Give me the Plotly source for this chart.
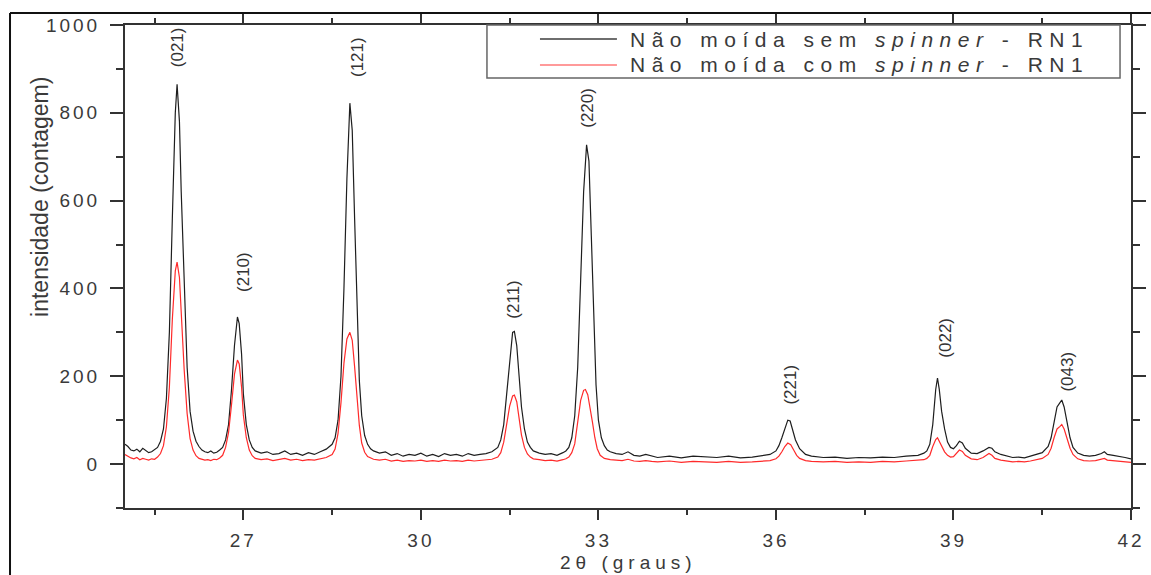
import plotly.graph_objects as go

# ---- data ----
two_theta_sem = [25.00,25.05,25.10,25.15,25.20,25.25,25.30,25.35,25.40,25.45,25.50,25.55,25.60,25.65,25.70,25.75,25.80,25.85,25.88,25.92,25.95,26.00,26.05,26.10,26.15,26.20,26.25,26.30,26.35,26.40,26.45,26.50,26.55,26.60,26.65,26.70,26.75,26.80,26.85,26.90,26.93,26.97,27.00,27.05,27.10,27.15,27.20,27.30,27.40,27.50,27.60,27.70,27.80,27.90,28.00,28.10,28.20,28.30,28.40,28.50,28.55,28.60,28.65,28.70,28.75,28.80,28.84,28.88,28.92,28.96,29.00,29.05,29.10,29.15,29.20,29.30,29.40,29.50,29.60,29.70,29.80,29.90,30.00,30.10,30.20,30.30,30.40,30.50,30.60,30.70,30.80,30.90,31.00,31.10,31.20,31.30,31.35,31.40,31.45,31.50,31.55,31.58,31.62,31.66,31.70,31.75,31.80,31.85,31.90,32.00,32.10,32.20,32.30,32.40,32.45,32.50,32.55,32.60,32.65,32.70,32.75,32.80,32.84,32.88,32.92,32.96,33.00,33.05,33.10,33.15,33.20,33.30,33.40,33.50,33.60,33.70,33.80,33.90,34.00,34.20,34.40,34.60,34.80,35.00,35.20,35.40,35.60,35.80,35.90,36.00,36.05,36.10,36.15,36.20,36.24,36.28,36.33,36.40,36.50,36.60,36.80,37.00,37.20,37.40,37.60,37.80,38.00,38.20,38.40,38.50,38.55,38.60,38.65,38.70,38.73,38.76,38.80,38.85,38.90,38.95,39.00,39.05,39.10,39.15,39.20,39.30,39.40,39.50,39.60,39.65,39.70,39.80,39.90,40.00,40.10,40.20,40.30,40.40,40.50,40.60,40.65,40.70,40.75,40.80,40.83,40.87,40.92,40.97,41.02,41.10,41.20,41.30,41.40,41.50,41.55,41.60,41.70,41.80,41.90,42.00]
intensity_sem = [45,40,32,30,34,28,36,30,26,28,34,38,52,80,150,300,560,800,865,780,620,400,220,120,75,52,40,32,28,26,30,25,27,32,38,55,90,170,270,335,320,250,160,90,55,38,30,25,28,22,24,30,22,25,20,26,22,28,34,45,60,100,200,400,650,822,760,560,350,190,110,65,45,35,30,25,28,20,24,18,22,20,25,18,22,17,24,20,22,18,24,20,22,24,28,38,55,90,160,240,300,302,270,200,130,80,50,38,30,25,22,24,20,26,30,38,60,110,220,420,620,727,690,520,330,180,100,60,42,32,28,24,22,28,20,18,22,18,15,18,14,18,16,15,18,14,16,20,22,30,42,60,82,100,98,80,55,35,22,18,15,16,13,15,14,16,15,18,20,25,30,45,90,170,196,170,120,80,50,38,35,42,52,48,36,25,24,30,38,36,28,22,18,15,16,14,18,22,26,40,60,95,130,140,146,130,95,60,38,25,20,18,20,24,28,22,20,18,15,12]

two_theta_com = [25.00,25.05,25.10,25.15,25.20,25.25,25.30,25.35,25.40,25.45,25.50,25.55,25.60,25.65,25.70,25.75,25.80,25.85,25.88,25.92,25.95,26.00,26.05,26.10,26.15,26.20,26.25,26.30,26.35,26.40,26.45,26.50,26.55,26.60,26.65,26.70,26.75,26.80,26.85,26.90,26.93,26.97,27.00,27.05,27.10,27.15,27.20,27.30,27.40,27.50,27.60,27.70,27.80,27.90,28.00,28.10,28.20,28.30,28.40,28.50,28.55,28.60,28.65,28.70,28.75,28.80,28.84,28.88,28.92,28.96,29.00,29.05,29.10,29.15,29.20,29.30,29.40,29.50,29.60,29.70,29.80,29.90,30.00,30.10,30.20,30.30,30.40,30.50,30.60,30.70,30.80,30.90,31.00,31.10,31.20,31.30,31.35,31.40,31.45,31.50,31.55,31.58,31.62,31.66,31.70,31.75,31.80,31.85,31.90,32.00,32.10,32.20,32.30,32.40,32.45,32.50,32.55,32.60,32.65,32.70,32.75,32.78,32.82,32.86,32.90,32.94,32.98,33.03,33.10,33.20,33.30,33.40,33.50,33.60,33.70,33.80,33.90,34.00,34.20,34.40,34.60,34.80,35.00,35.20,35.40,35.60,35.80,35.90,36.00,36.05,36.10,36.15,36.20,36.25,36.30,36.35,36.40,36.50,36.60,36.80,37.00,37.20,37.40,37.60,37.80,38.00,38.20,38.40,38.50,38.55,38.60,38.65,38.70,38.73,38.76,38.80,38.85,38.90,38.95,39.00,39.05,39.10,39.15,39.20,39.30,39.40,39.50,39.60,39.65,39.70,39.80,39.90,40.00,40.10,40.20,40.30,40.40,40.50,40.60,40.65,40.70,40.75,40.80,40.83,40.87,40.92,40.97,41.02,41.10,41.20,41.30,41.40,41.50,41.55,41.60,41.70,41.80,41.90,42.00]
intensity_com = [22,18,14,12,15,10,13,11,9,12,11,16,24,42,85,175,330,440,460,425,335,215,115,58,32,19,13,11,9,10,8,11,10,14,20,38,72,135,205,237,228,175,112,60,32,19,13,10,12,8,10,13,9,11,8,10,9,12,15,22,34,70,140,230,285,300,282,222,150,88,48,27,17,13,11,9,11,7,9,6,8,7,9,6,8,6,9,7,8,6,9,7,8,9,11,16,26,50,92,132,155,157,142,106,66,38,23,16,12,10,8,9,7,10,12,16,26,46,92,145,168,170,158,130,95,60,35,20,13,10,9,8,11,7,6,8,6,5,7,4,6,5,4,6,4,5,7,8,12,18,28,40,48,44,32,20,13,8,6,5,6,4,5,4,6,5,7,8,10,13,20,40,56,60,52,40,28,20,16,17,24,32,29,20,12,10,15,24,20,13,9,7,5,6,5,7,10,13,22,36,60,80,86,90,80,58,36,22,12,8,7,8,11,13,9,8,6,5,4]

peak_labels = ["(021)", "(210)", "(121)", "(211)", "(220)", "(221)", "(022)", "(043)"]
peak_label_x = [25.90, 26.99, 28.92, 31.57, 32.82, 36.23, 38.85, 40.93]
peak_label_y = [950, 437, 927, 374, 811, 180, 287, 210]

series_names = ["Não moída sem <i>spinner</i> - RN1", "Não moída com <i>spinner</i> - RN1"]
x_tickvals = [27, 30, 33, 36, 39, 42]
y_tickvals = [0, 200, 400, 600, 800, 1000]

FONT = "Arial, Liberation Sans, sans-serif"
TXT = "#3a3a3a"


def spaced(s, px):
    return '<span style="letter-spacing:%spx">%s</span>' % (px, s)


fig = go.Figure()
fig.add_trace(go.Scatter(x=two_theta_sem, y=intensity_sem, mode="lines",
                         line=dict(color="#1e1e1e", width=1.2), name="sem", showlegend=False))
fig.add_trace(go.Scatter(x=two_theta_com, y=intensity_com, mode="lines",
                         line=dict(color="#ff2a2a", width=1.2), name="com", showlegend=False))

annotations = []
for lab, px, py in zip(peak_labels, peak_label_x, peak_label_y):
    annotations.append(dict(x=px, y=py, xref="x", yref="y", text=lab, textangle=-90,
                            showarrow=False, font=dict(family=FONT, size=17, color="#333")))

# axis titles
annotations.append(dict(x=-0.0994, y=0.644, xref="paper", yref="paper",
                        text="intensidade (contagem)", textangle=-90, showarrow=False,
                        font=dict(family=FONT, size=23, color=TXT)))
annotations.append(dict(x=0.5, y=-0.112, xref="paper", yref="paper",
                        text=spaced("2θ (graus)", 5), showarrow=False, yanchor="middle",
                        font=dict(family=FONT, size=19, color=TXT)))

# legend (drawn manually)
leg_y = [0.971, 0.9172]
leg_col = ["#6e6e6e", "#ff9a9a"]
shapes = [
    dict(type="rect", xref="paper", yref="paper", x0=0.3598, x1=0.9891, y0=0.8903, y1=1.0,
         line=dict(color="#666", width=1.5), fillcolor="rgba(0,0,0,0)"),
    # outer frame
    dict(type="line", xref="paper", yref="paper", x0=-0.1143, x1=1.2, y0=1.0248, y1=1.0248,
         line=dict(color="#111", width=2)),
    dict(type="line", xref="paper", yref="paper", x0=-0.1143, x1=-0.1143, y0=1.0248, y1=-0.3,
         line=dict(color="#111", width=2)),
]
for yy, cc, nm in zip(leg_y, leg_col, series_names):
    shapes.append(dict(type="line", xref="paper", yref="paper", x0=0.4125, x1=0.489,
                       y0=yy, y1=yy, line=dict(color=cc, width=2)))
    annotations.append(dict(x=0.5, y=yy, xref="paper", yref="paper", xanchor="left",
                            yanchor="middle", text=spaced(nm, 6.5), showarrow=False,
                            font=dict(family=FONT, size=21, color=TXT)))

fig.update_layout(
    width=1151, height=575,
    margin=dict(l=125, r=20, t=25, b=67),
    paper_bgcolor="white", plot_bgcolor="white",
    showlegend=False,
    annotations=annotations, shapes=shapes,
    xaxis=dict(range=[25, 42], tickvals=x_tickvals, automargin=False,
               ticktext=[spaced(str(v), 3) for v in x_tickvals],
               showgrid=False, zeroline=False, showline=True, mirror="ticks",
               linecolor="#333", linewidth=2, ticks="outside", ticklen=10, tickwidth=2,
               tickcolor="#333", ticklabelstandoff=4,
               minor=dict(dtick=1.5, tick0=25.5, ticks="outside", ticklen=5, tickwidth=2,
                          tickcolor="#333", showgrid=False),
               tickfont=dict(family=FONT, size=19, color=TXT)),
    yaxis=dict(range=[-100, 1000], tickvals=y_tickvals, automargin=False,
               ticktext=[spaced(str(v), 3) for v in y_tickvals],
               showgrid=False, zeroline=False, showline=True, mirror="ticks",
               linecolor="#333", linewidth=2, ticks="outside", ticklen=13, tickwidth=2,
               tickcolor="#333", ticklabelstandoff=6,
               minor=dict(dtick=100, tick0=0, ticks="outside", ticklen=7, tickwidth=2,
                          tickcolor="#333", showgrid=False),
               tickfont=dict(family=FONT, size=19, color=TXT)),
)

fig.write_html("out.html")
